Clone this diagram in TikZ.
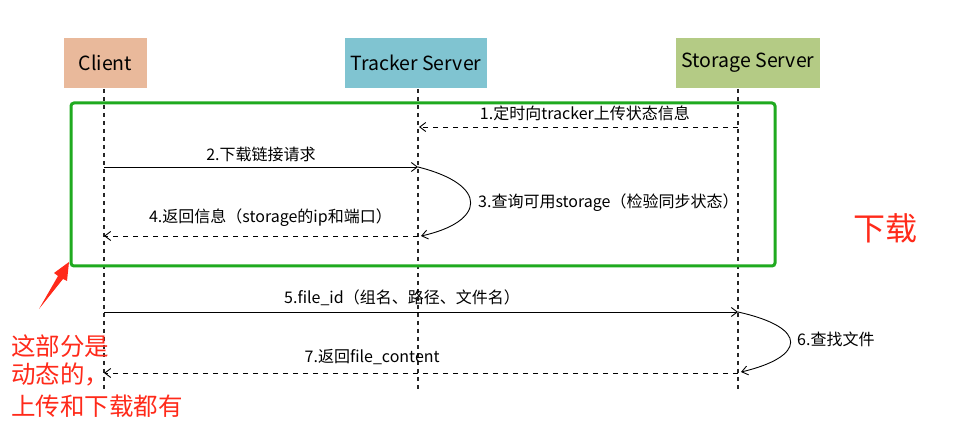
\documentclass[tikz,border=0pt]{standalone}
\usepackage{fontspec}
\setmainfont{Noto Sans CJK SC}
\usetikzlibrary{arrows.meta}
\definecolor{clientc}{HTML}{E9B99B}
\definecolor{trackerc}{HTML}{80C4D1}
\definecolor{storagec}{HTML}{B4CB85}
\definecolor{greenbox}{HTML}{1FAA1F}
\definecolor{redtxt}{HTML}{FF2A1A}
\begin{document}
\begin{tikzpicture}[x=1pt,y=-1pt,
  actor/.style={minimum width=#1, minimum height=51pt, inner sep=0pt, font=\fontsize{19.5}{22}\selectfont, draw=white},
  life/.style={line width=1.3pt, dash pattern=on 4pt off 4pt, black!85},
  msg/.style={line width=0.9pt, -{Straight Barb[length=6pt,width=9pt]}},
  ret/.style={msg, dash pattern=on 5pt off 5pt},
  lbl/.style={font=\fontsize{16}{18}\selectfont, inner sep=0pt},
  rtext/.style={text=redtxt, font=\fontsize{24.5}{34}\selectfont, align=left, inner sep=0pt}
]
\useasboundingbox (0,0) rectangle (966,443);
\fill[white] (0,0) rectangle (966,443);
% actors
\node[actor=84pt, fill=clientc] (client) at (105.5,62.5) {Client};
\node[actor=143pt, fill=trackerc] (tracker) at (416,62.5) {Tracker Server};
\node[actor=145pt, fill=storagec] (storage) at (748,62.5) {Storage Server};
% lifeline coordinates
\coordinate (cl0) at (104,89); \coordinate (cl1) at (104,392);
\coordinate (tl0) at (418,89); \coordinate (tl1) at (418,392);
\coordinate (sl0) at (738,89); \coordinate (sl1) at (738,392);
\draw[life] (cl0) -- (cl1);
\draw[life] (tl0) -- (tl1);
\draw[life] (sl0) -- (sl1);
% green frame
\draw[greenbox, line width=3pt, rounded corners=3pt] (71,103) rectangle (775,266);
% message points
\coordinate (s1) at (738,127); \coordinate (t1) at (419,127);
\coordinate (c2) at (104,167); \coordinate (t2) at (418,167);
\coordinate (t3) at (421,236);
\coordinate (t4) at (418,236); \coordinate (c4) at (104,236);
\coordinate (c5) at (104,312); \coordinate (s5) at (738,312);
\coordinate (s6) at (741,372);
\coordinate (s7) at (738,373); \coordinate (c7) at (104,373);
% messages
\draw[ret] (s1) -- (t1) node[lbl, pos=0.48, above=6pt] (m1) {1.定时向tracker上传状态信息};
\draw[msg] (c2) -- (t2) node[lbl, midway, above=5pt] (m2) {2.下载链接请求};
\draw[msg] (t2) .. controls (490,185) and (485,222) .. (t3);
\node[lbl, anchor=west] (m3) at (478,203) {3.查询可用storage（检验同步状态）};
\draw[ret] (t4) -- (c4) node[lbl, pos=0.47, above=9pt] (m4) {4.返回信息（storage的ip和端口）};
\draw[msg] (c5) -- (s5) node[lbl, pos=0.47, above=6pt] (m5) {5.file\_id（组名、路径、文件名）};
\draw[msg] (s5) .. controls (810,328) and (805,357) .. (s6);
\node[lbl, anchor=west] (m6) at (797,339) {6.查找文件};
\draw[ret] (s7) -- (c7) node[lbl, pos=0.577, above=8pt] (m7) {7.返回file\_content};
% red annotations
\node[text=redtxt, font=\fontsize{32}{36}\selectfont, inner sep=0pt] (dl) at (885,228) {下载};
\node[rtext, anchor=north west] (note) at (11,335) {这部分是\\[-6pt]动态的，\\[-2pt]上传和下载都有};
\fill[redtxt] (39,309) -- (58,276) -- (54,273) -- (69,262) -- (67,281) -- (63,279) -- cycle;
\end{tikzpicture}
\end{document}
